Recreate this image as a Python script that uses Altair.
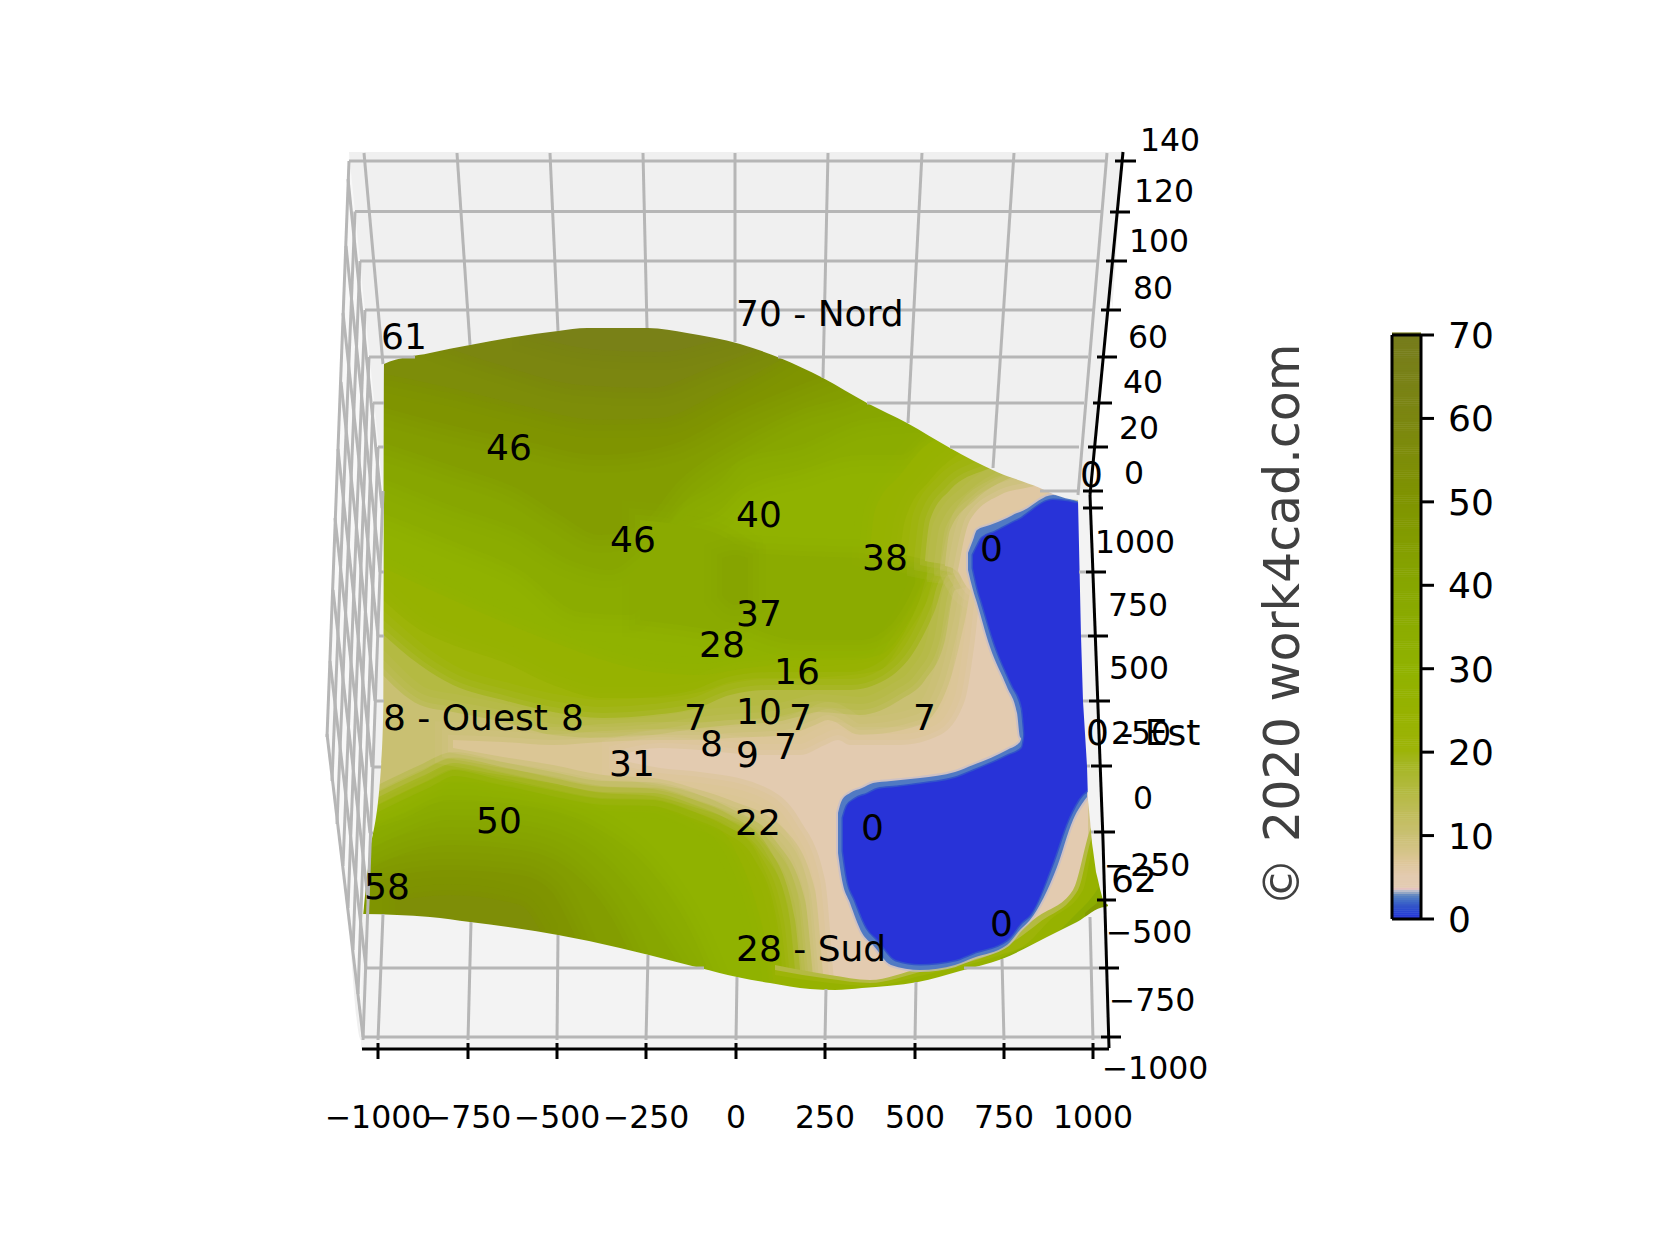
import altair as alt
import pandas as pd

# ---- colour scale ----
Z_STOPS = [0, 1.5, 2.7, 3.2, 3.6, 5, 8, 10, 15, 20, 25, 30, 40, 50, 60, 70]
Z_COLORS = ["#2833d8", "#3556c8", "#5f85c0", "#b5bcc6", "#e3cbb2", "#e3cbb0", "#d4c488", "#c9c072",
            "#b4ba42", "#9db408", "#96b200", "#90b200", "#87a600", "#7f9400", "#7b8610", "#767c1c"]

# ---- surface regions: (x, upper y, lower y) in picture pixels, painted in order ----
BASE = [(360, 320, 1000), (1108, 320, 1000)]
U35 = [(375, 300, 510), (450, 300, 540), (520, 300, 570), (580, 300, 612), (630, 300, 615), (680, 300, 530), (720, 300, 510), (740, 300, 490), (800, 300, 470), (860, 300, 455), (900, 300, 455), (925, 300, 435)]
U40 = [(375, 300, 475), (450, 300, 505), (520, 300, 530), (570, 300, 560), (610, 300, 570), (640, 300, 550), (680, 300, 505), (720, 300, 480), (740, 300, 460), (800, 300, 445), (860, 300, 420), (905, 300, 415)]
U45 = [(375, 300, 440), (450, 300, 465), (520, 300, 490), (560, 300, 515), (600, 300, 535), (640, 300, 525), (680, 300, 480), (740, 300, 440), (800, 300, 410), (850, 300, 395), (880, 300, 380)]
U50 = [(375, 300, 405), (450, 300, 425), (520, 300, 440), (600, 300, 455), (670, 300, 445), (740, 300, 410), (800, 300, 385), (840, 300, 370)]
U55 = [(375, 300, 372), (450, 300, 388), (520, 300, 405), (600, 300, 420), (660, 300, 418), (720, 300, 392), (780, 300, 360), (810, 300, 340)]
U60 = [(430, 300, 342), (500, 300, 365), (580, 300, 385), (650, 300, 388), (710, 300, 368), (770, 300, 345)]
U65 = [(530, 300, 336), (600, 300, 350), (660, 300, 352), (710, 300, 342), (750, 300, 330)]
R37 = [(640, 520, 620), (680, 525, 625), (720, 535, 630), (745, 550, 620)]
M36 = [(745, 553, 625), (800, 556, 640), (860, 558, 640), (895, 560, 620), (915, 565, 585)]
P41 = [(722, 558, 595), (735, 555, 605), (748, 558, 600)]
LO35 = [(368, 830, 915), (400, 820, 1000), (450, 800, 1000), (520, 805, 1000), (600, 830, 1000), (650, 870, 1000), (690, 930, 1000), (720, 1000, 1000)]
LO40 = [(368, 850, 915), (400, 835, 1000), (450, 820, 1000), (520, 825, 1000), (590, 850, 1000), (630, 890, 1000), (670, 950, 1000), (700, 1000, 1000)]
LO45 = [(368, 870, 915), (400, 855, 1000), (450, 845, 1000), (520, 850, 1000), (570, 870, 1000), (610, 915, 1000), (650, 1000, 1000)]
LO50 = [(368, 885, 915), (400, 875, 1000), (450, 870, 1000), (520, 875, 1000), (550, 890, 1000), (570, 925, 1000), (600, 1000, 1000)]
LO55 = [(400, 900, 1000), (450, 895, 1000), (520, 905, 1000), (540, 930, 1000)]
T25 = [(378, 565, 805), (420, 585, 785), (453, 600, 770), (503, 622, 778), (553, 642, 790), (603, 660, 798), (653, 672, 800), (700, 675, 815), (735, 670, 850), (755, 667, 900), (770, 665, 960), (778, 663, 1000), (800, 660, 1000), (850, 660, 1000), (880, 655, 1000), (910, 620, 1000), (930, 580, 1000), (945, 570, 1000), (1088, 570, 1000)]
T20 = [(378, 595, 800), (420, 630, 780), (453, 645, 765), (503, 662, 773), (553, 685, 785), (603, 698, 793), (653, 698, 795), (700, 692, 812), (730, 682, 825), (760, 678, 860), (780, 678, 920), (792, 678, 1000), (850, 675, 1000), (880, 670, 1000), (903, 640, 1000), (925, 605, 1000), (940, 575, 1000), (1088, 570, 1000)]
T15 = [(378, 630, 792), (420, 665, 772), (453, 685, 758), (503, 700, 767), (553, 712, 778), (603, 718, 787), (653, 715, 788), (700, 707, 802), (730, 695, 815), (770, 690, 850), (795, 690, 920), (805, 690, 1000), (850, 690, 1000), (885, 680, 1000), (915, 650, 1000), (935, 610, 1000), (948, 575, 1000), (1088, 570, 1000)]
T10 = [(378, 670, 785), (420, 705, 765), (453, 712, 752), (503, 722, 762), (553, 735, 772), (603, 738, 781), (653, 735, 782), (700, 728, 795), (730, 725, 808), (775, 722, 840), (805, 715, 900), (818, 712, 1000), (860, 715, 1000), (900, 700, 1000), (925, 680, 1000), (945, 640, 1000), (955, 590, 1000), (1088, 570, 1000)]
T7 = [(453, 740, 748), (503, 742, 757), (553, 745, 765), (603, 742, 775), (653, 740, 778), (700, 740, 790), (730, 738, 800), (785, 735, 830), (815, 725, 890), (828, 720, 1000), (860, 735, 1000), (920, 725, 1000), (950, 680, 1000), (965, 620, 1000), (975, 575, 1000), (1088, 570, 1000)]
T5 = [(620, 755, 760), (660, 748, 768), (700, 750, 772), (760, 755, 785), (800, 755, 820), (825, 745, 880), (838, 740, 1000), (850, 745, 1000), (900, 745, 1000), (940, 735, 1000), (965, 700, 1000), (975, 640, 1000), (980, 600, 1000), (1000, 570, 1000), (1088, 570, 1000)]
W25 = [(870, 550, 551), (875, 510, 552), (900, 475, 553), (935, 440, 562), (1000, 430, 600)]
W20 = [(900, 553, 554), (905, 520, 555), (930, 480, 561), (960, 453, 570), (1000, 440, 600)]
W15 = [(925, 560, 561), (930, 520, 562), (950, 490, 566), (985, 470, 590), (1020, 460, 600)]
W10 = [(945, 565, 566), (950, 530, 567), (975, 500, 590), (1010, 478, 600), (1040, 470, 600)]
W6 = [(958, 570, 571), (970, 520, 590), (1000, 495, 600), (1030, 487, 600), (1060, 480, 600)]
L15 = [(775, 965, 1000), (830, 975, 1000), (870, 980, 1000), (920, 968, 1000), (1000, 945, 1000), (1037, 917, 1000), (1073, 890, 1000), (1090, 830, 1000), (1103, 800, 1000)]
L20 = [(775, 970, 1000), (830, 979, 1000), (870, 983, 1000), (920, 972, 1000), (1000, 950, 1000), (1040, 922, 1000), (1078, 890, 1000), (1091, 840, 1000), (1103, 815, 1000)]
L25 = [(775, 975, 1000), (830, 983, 1000), (870, 986, 1000), (920, 976, 1000), (1000, 955, 1000), (1025, 945, 1000), (1050, 920, 1000), (1083, 890, 1000), (1092, 850, 1000), (1103, 830, 1000)]
L35 = [(1000, 958, 1000), (1030, 945, 1000), (1050, 938, 1000), (1073, 917, 1000), (1097, 890, 1000), (1103, 880, 1000)]
L45 = [(1085, 913, 1000), (1097, 903, 1000), (1108, 895, 1000)]
# blue fringe (outer) and blue core (inner)
BLUE_UP = [(968, 553, 570), (973, 540, 590), (977, 530, 603), (990, 525, 647), (1007, 518, 687), (1017, 513, 713), (1020, 512, 737), (1053, 495, 760), (1085, 505, 795)]
BLUE_LOW = [(838, 813, 853), (842, 800, 880), (850, 793, 903), (862, 788, 933), (873, 783, 945), (891, 781, 965), (920, 778, 970), (955, 772, 965), (973, 765, 958), (1007, 750, 945), (1020, 742, 930), (1030, 700, 920), (1057, 700, 867), (1073, 700, 820), (1087, 700, 797)]
CORE_UP = [(973, 555, 568), (978, 545, 590), (982, 538, 603), (995, 532, 645), (1012, 523, 685), (1022, 518, 708), (1026, 515, 742), (1053, 500, 755), (1085, 505, 790)]
CORE_LOW = [(843, 818, 851), (847, 806, 878), (855, 799, 900), (867, 794, 928), (878, 789, 940), (896, 787, 960), (920, 784, 964), (955, 778, 960), (973, 771, 953), (1007, 756, 940), (1022, 748, 922), (1030, 705, 915), (1052, 705, 865), (1068, 705, 820), (1082, 705, 795), (1088, 705, 790)]

# paint order: rows, level, soft edge
REGIONS = [
    (U35, 35, True), (U40, 40, True), (U45, 45, True), (U50, 50, True), (U55, 55, True), (U60, 60, True), (U65, 65, True),
    (R37, 37, True), (M36, 36, True), (P41, 41, True),
    (LO35, 35, True), (LO40, 40, True), (LO45, 45, True), (LO50, 50, True), (LO55, 54, True),
    (T25, 25, True), (W25, 25, True), (T20, 20, True), (W20, 20, True), (T15, 15, True), (W15, 15, True),
    (T10, 10, True), (W10, 10, True), (T7, 7, True), (T5, 5, True), (W6, 6, True),
    (L15, 15, False), (L20, 20, False), (L25, 25, False), (L35, 35, False), (L45, 45, False),
]

# ---- panes ----
PANE_TOP = [(349, 152, 921), (361, 152, 1040), (363, 152, 915), (368, 152, 867), (381, 152, 767), (383.5, 152, 700), (384, 152, 364),
            (430, 152, 353), (470, 152, 345), (515, 152, 337), (558, 152, 331), (587, 152, 328), (648, 152, 328), (687, 152, 333), (740, 152, 344), (780, 152, 358),
            (823, 152, 378), (867, 152, 403), (907, 152, 423), (950, 152, 448), (997, 152, 472), (1040, 152, 488), (1053, 152, 494),
            (1078, 152, 500), (1090, 152, 495), (1123, 152, 152)]
PANE_BOTTOM = [(361, 1040, 1049), (363, 914, 1049), (397, 915, 1049), (430, 917, 1049), (470, 922, 1049), (515, 928, 1049), (558, 935, 1049), (620, 948, 1049), (649, 955, 1049),
               (700, 968, 1049), (737, 977, 1049), (770, 983, 1049), (810, 989, 1049), (835, 990, 1049), (862, 988, 1049), (918, 982, 1049), (960, 971, 1049), (1002, 959, 1049),
               (1047, 937, 1049), (1077, 922, 1049), (1105, 907, 1049), (1109, 1048, 1049)]
PANE_RIGHT = [(1078, 490, 500), (1081, 490, 636), (1083, 490, 701), (1087, 490, 766), (1088, 490, 800), (1090, 490, 820), (1092, 535, 843),
              (1093, 572, 850), (1096, 636, 872), (1098, 701, 880), (1100, 766, 889), (1103, 840, 900), (1105, 880, 903)]
WALL = [(327, 737, 737), (349, 152, 921), (361, 272, 1040), (363, 292, 916), (368, 340, 865), (372, 380, 767), (383, 491, 491)]
WHITE_WEDGE = [(1090, 495, 495), (1093, 464, 572), (1096, 430, 636), (1098, 407, 701), (1100, 384, 766), (1103, 350, 840), (1105, 330, 880), (1112, 300, 880)]
WHITE_A = [(1105, 907, 907), (1108.5, 906, 1030), (1109, 1030, 1030)]
WHITE_B = [(1105, 880, 903), (1110, 880, 906)]

# ---- grid lines: x1, y1, x2, y2 ----
GRID = [
    (349, 161, 1107, 161), (355, 211.5, 1102, 211.5), (360, 261, 1098, 261), (365, 310, 1093, 310),
    (369, 357, 415, 357), (778, 357, 1088, 357), (373, 403, 384, 403), (867, 403, 1084, 403),
    (378, 447, 384, 447), (950, 447, 1079, 447), (1040, 491, 1077, 491),
    (380, 572, 384, 572), (378, 636, 384, 636), (375, 701, 384, 701), (372, 767, 381, 767), (371, 833, 373, 833),
    (1079, 572, 1086, 572), (1081, 636, 1088, 636), (1083, 701, 1089, 701), (1087, 766, 1090, 766), (1091, 832, 1094, 832),
    (366, 968, 704, 968), (964, 968, 1099, 968), (363, 1037, 1101, 1037),
    (364, 153, 383, 364), (457, 153, 470, 345), (550, 153, 558, 331), (643, 153, 647, 328), (735, 153, 735, 342),
    (828, 153, 823, 378), (922, 153, 908, 423), (1014, 153, 993, 468), (1107, 153, 1078, 495),
    (383, 914, 378, 1040), (471, 922, 468, 1040), (558, 935, 557, 1040), (648, 955, 646, 1040), (737, 977, 736, 1040),
    (826, 989, 825, 1040), (916, 982, 915, 1040), (1002, 959, 1004, 1040), (1090, 917, 1093, 1040),
]
WALL_Z = [(349, 161, 327, 737), (355, 211.5, 332, 781), (360, 261, 337, 824), (365, 310, 343, 866),
          (369, 357, 348, 908), (373, 403, 353, 950), (378, 447, 358, 994), (383, 491, 363, 1040)]
WALL_Y = [(382, 508, 348, 179), (380, 572, 346, 246), (378, 636, 343, 313), (375, 701, 341, 382), (372, 767, 338, 449),
          (370, 833, 335, 518), (368, 900, 333, 590), (366, 968, 330, 661), (363, 1037, 327, 734)]

# ---- axes: x1, y1, x2, y2 ----
AXES = [(1123, 152, 1090, 495), (1090, 495, 1103, 840), (1103, 840, 1109, 1048), (362, 1049, 1109, 1049)]
Z_TICK_MARKS = [(1115, 161, 1136, 161), (1110, 212, 1130, 212), (1106, 261, 1127, 261), (1101, 310, 1121, 310),
                (1097, 357, 1117, 357), (1093, 403, 1112, 403), (1088, 447, 1108, 447), (1083, 491, 1103, 491)]
Y_TICK_MARKS = [(1083, 508, 1103, 508), (1086, 572, 1106, 572), (1088, 636, 1108, 636), (1089, 701, 1110, 701), (1091, 766, 1112, 766),
                (1094, 832, 1115, 832), (1097, 900, 1116, 900), (1099, 968, 1119, 968), (1101, 1037, 1121, 1037)]
X_TICK_POS = [378, 468, 557, 646, 736, 825, 915, 1004, 1093]
X_LABELS = ["\u22121000", "\u2212750", "\u2212500", "\u2212250", "0", "250", "500", "750", "1000"]
Y_LABELS = [("1000", 1135, 542), ("750", 1138, 605), ("500", 1139, 668), ("250", 1141, 733), ("0", 1143, 798),
            ("\u2212250", 1147, 865), ("\u2212500", 1149, 932), ("\u2212750", 1152, 1000), ("\u22121000", 1155, 1068)]
Z_LABELS = [("140", 1171, 140), ("120", 1165, 191), ("100", 1160, 241), ("80", 1154, 288), ("60", 1149, 337),
            ("40", 1144, 382), ("20", 1140, 428), ("0", 1135, 473)]

# ---- annotations: text, left x, middle y ----
NOTES = [("61", 381, 338), ("46", 486, 449), ("70 - Nord", 736, 315), ("46", 610, 541), ("40", 736, 516), ("38", 862, 559),
         ("0", 980, 550), ("0", 1080, 476), ("37", 736, 615), ("28", 699, 646), ("16", 774, 673), ("10", 736, 713),
         ("7", 684, 719), ("7", 789, 719), ("7", 913, 719), ("8", 700, 745), ("9", 736, 756), ("7", 774, 748), ("31", 609, 765),
         ("22", 735, 824), ("0", 861, 829), ("8 - Ouest", 383, 719), ("8", 561, 719), ("50", 476, 822), ("58", 364, 888),
         ("28 - Sud", 736, 950), ("0", 990, 925), ("62", 1111, 881), ("0 - Est", 1086, 734)]

# ---- colour bar ----
CB_LEFT, CB_RIGHT, CB_TOP, CB_BOTTOM = 1392, 1421, 335, 919
CB_TICKS = [0, 10, 20, 30, 40, 50, 60, 70]

FONT = "DejaVu Sans"
XS = alt.Scale(domain=[8, 1661], nice=False, zero=False)
YS = alt.Scale(domain=[1243, 8], nice=False, zero=False)
CS = alt.Scale(domain=Z_STOPS, range=Z_COLORS, clamp=True)
X = alt.X("x:Q", scale=XS, axis=None)
Y = alt.Y("y:Q", scale=YS, axis=None)
layers = []


def frame(rows, z):
    return pd.DataFrame([{"x": r[0], "y": r[1], "y2": r[2], "z": z} for r in rows])


def level_area(rows, z, interp="monotone", width=0, opacity=1.0):
    kw = {"strokeWidth": width} if width else {}
    enc = dict(x=X, y=Y, y2="y2:Q", fill=alt.Fill("z:Q", scale=CS, legend=None))
    if width:
        enc["stroke"] = alt.Stroke("z:Q", scale=CS, legend=None)
    return alt.Chart(frame(rows, z)).mark_area(orient="vertical", interpolate=interp, opacity=opacity, **kw).encode(**enc)


def plain_area(rows, colour, interp="linear"):
    return alt.Chart(frame(rows, 0)).mark_area(orient="vertical", interpolate=interp, color=colour).encode(x=X, y=Y, y2="y2:Q")


def segments(rows, colour, width):
    d = pd.DataFrame(rows, columns=["x", "y", "x2", "y2"])
    return alt.Chart(d).mark_rule(color=colour, strokeWidth=width).encode(x=X, y=Y, x2="x2:Q", y2="y2:Q")


def texts(rows, size, align="center", colour="#000000", angle=None):
    d = pd.DataFrame(rows, columns=["t", "x", "y"])
    kw = {"angle": angle} if angle is not None else {}
    return alt.Chart(d).mark_text(font=FONT, fontSize=size, align=align, baseline="middle", color=colour, **kw).encode(x=X, y=Y, text="t:N")


# surface
layers.append(level_area(BASE, 30, interp="linear"))
for rows, z, soft in REGIONS:
    if soft:
        layers.append(level_area(rows, z, width=36, opacity=0.12))
        layers.append(level_area(rows, z, width=22, opacity=0.18))
        layers.append(level_area(rows, z, width=10, opacity=0.3))
    layers.append(level_area(rows, z))
for rows in (BLUE_UP, BLUE_LOW):
    layers.append(level_area(rows, 3.3, width=4, opacity=0.7))
for rows in (BLUE_UP, BLUE_LOW):
    layers.append(level_area(rows, 2.4))
for rows in (CORE_UP, CORE_LOW):
    layers.append(level_area(rows, 1.3, width=3))
for rows in (CORE_UP, CORE_LOW):
    layers.append(level_area(rows, 0))

# panes hide whatever lies outside the surface
layers.append(plain_area(PANE_TOP, "#f0f0f0", "monotone"))
layers.append(plain_area(PANE_BOTTOM, "#f3f3f3", "monotone"))
layers.append(plain_area(PANE_RIGHT, "#f3f3f3"))
layers.append(plain_area(WALL, "#f8f8f8"))
layers.append(plain_area(WHITE_WEDGE, "#ffffff"))
layers.append(plain_area(WHITE_A, "#ffffff"))
layers.append(plain_area(WHITE_B, "#ffffff"))

# grid, axes
layers.append(segments(WALL_Z, "#b6b6b6", 3))
layers.append(segments(WALL_Y, "#b6b6b6", 3))
layers.append(segments(GRID, "#b6b6b6", 3))
layers.append(segments(AXES, "#000000", 3))
layers.append(segments(Z_TICK_MARKS, "#000000", 3))
layers.append(segments(Y_TICK_MARKS, "#000000", 3))
layers.append(segments([(x, 1043, x, 1059) for x in X_TICK_POS], "#000000", 3))

# labels
layers.append(texts(list(zip(X_LABELS, X_TICK_POS, [1119] * len(X_TICK_POS))), 31.5))
layers.append(texts([(t, x, y + 2) for t, x, y in Y_LABELS], 31.5))
layers.append(texts([(t, x - 1, y + 1.5) for t, x, y in Z_LABELS], 31.5))
layers.append(texts(NOTES, 36, align="left"))
layers.append(texts([("\u00a9 2020 work4cad.com", 1284, 625)], 49, colour="#404040", angle=270))

# colour bar
cb_levels = [i * 0.25 for i in range(0, 281)]
cb = pd.DataFrame({"z": cb_levels})
cb["y"] = CB_BOTTOM - cb["z"] * (CB_BOTTOM - CB_TOP) / 70
cb["y2"] = cb["y"] - (CB_BOTTOM - CB_TOP) / 280 - 0.5
cb["x"] = CB_LEFT
cb["x2"] = CB_RIGHT
layers.append(alt.Chart(cb).mark_rect(strokeWidth=0).encode(x=X, x2="x2:Q", y=Y, y2="y2:Q", fill=alt.Fill("z:Q", scale=CS, legend=None)))
layers.append(segments([(CB_LEFT, CB_TOP, CB_RIGHT, CB_TOP), (CB_RIGHT, CB_TOP, CB_RIGHT, CB_BOTTOM),
                        (CB_RIGHT, CB_BOTTOM, CB_LEFT, CB_BOTTOM), (CB_LEFT, CB_BOTTOM, CB_LEFT, CB_TOP)], "#000000", 3))
cb_y = [CB_BOTTOM - t * (CB_BOTTOM - CB_TOP) / 70 for t in CB_TICKS]
layers.append(segments([(CB_RIGHT, y, 1434, y) for y in cb_y], "#000000", 3))
layers.append(texts([(str(t), 1448, y + 2) for t, y in zip(CB_TICKS, cb_y)], 36, align="left"))

chart = alt.layer(*layers).properties(
    width=1653, height=1235, padding=0, autosize=alt.AutoSizeParams(type="none"),
    background="#ffffff",
).configure_view(stroke=None)

chart.save("out.html", embed_options={"renderer": "svg", "actions": False})
